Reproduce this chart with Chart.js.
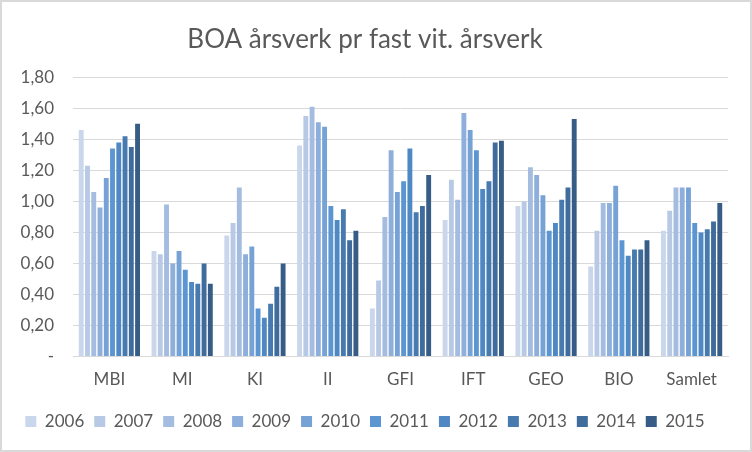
<!DOCTYPE html>
<html>
<head>
<meta charset="utf-8">
<script src="https://cdn.jsdelivr.net/npm/chart.js@4"></script>
<style>
  html, body { margin: 0; padding: 0; background: #fff; }
  #wrap {
    position: absolute; left: 0; top: 0;
    width: 752px; height: 452px;
    box-sizing: border-box;
    border: 2px solid #d9d9d9;
  }
</style>
</head>
<body>
<div id="wrap"><canvas id="boaChart"></canvas></div>
<script>
// categories and series (one array per year)
const units = ['MBI', 'MI', 'KI', 'II', 'GFI', 'IFT', 'GEO', 'BIO', 'Samlet'];
const years = ['2006', '2007', '2008', '2009', '2010', '2011', '2012', '2013', '2014', '2015'];

const v2006 = [1.46, 0.68, 0.78, 1.36, 0.31, 0.88, 0.97, 0.58, 0.81];
const v2007 = [1.23, 0.66, 0.86, 1.55, 0.49, 1.14, 1.00, 0.81, 0.94];
const v2008 = [1.06, 0.98, 1.09, 1.61, 0.90, 1.01, 1.22, 0.99, 1.09];
const v2009 = [0.96, 0.60, 0.66, 1.51, 1.33, 1.57, 1.17, 0.99, 1.09];
const v2010 = [1.15, 0.68, 0.71, 1.48, 1.06, 1.46, 1.04, 1.10, 1.09];
const v2011 = [1.34, 0.56, 0.31, 0.97, 1.13, 1.33, 0.81, 0.75, 0.86];
const v2012 = [1.38, 0.48, 0.25, 0.88, 1.34, 1.08, 0.86, 0.65, 0.80];
const v2013 = [1.42, 0.47, 0.34, 0.95, 0.93, 1.13, 1.01, 0.69, 0.82];
const v2014 = [1.35, 0.60, 0.45, 0.75, 0.97, 1.38, 1.09, 0.69, 0.87];
const v2015 = [1.50, 0.47, 0.60, 0.81, 1.17, 1.39, 1.53, 0.75, 0.99];

const yTicks = [0, 0.2, 0.4, 0.6, 0.8, 1.0, 1.2, 1.4, 1.6, 1.8];

const series = [v2006, v2007, v2008, v2009, v2010, v2011, v2012, v2013, v2014, v2015];
const colors = ['#c9d6eb', '#b7c9e5', '#a3bce0', '#8eafdb', '#77a2d6', '#5b96d2',
                '#4f88c3', '#477aaf', '#3f6c9c', '#375d87'];

const font = "'Lato', 'Liberation Sans', sans-serif";
Chart.defaults.font.family = font;
Chart.defaults.color = '#595959';

new Chart(document.getElementById('boaChart'), {
    type: 'bar',
    data: {
        labels: units,
        datasets: series.map((d, i) => ({
            label: years[i],
            data: d,
            backgroundColor: colors[i],
            borderWidth: 0,
            categoryPercentage: 0.86,
            barPercentage: 0.78
        }))
    },
    options: {
        responsive: true,
        maintainAspectRatio: false,
        animation: false,
        layout: {
            padding: { left: 0, right: 22, top: 18, bottom: 10 }
        },
        plugins: {
            title: {
                display: true,
                text: 'BOA årsverk pr fast vit. årsverk',
                font: { size: 26, weight: 'normal' },
                color: '#595959',
                padding: { top: 4, bottom: 22 }
            },
            legend: {
                position: 'bottom',
                labels: {
                    boxWidth: 11,
                    boxHeight: 11,
                    padding: 10,
                    font: { size: 17 },
                    color: '#595959'
                }
            },
            tooltip: { enabled: false }
        },
        scales: {
            y: {
                min: 0,
                max: 1.8,
                afterBuildTicks: s => { s.ticks = yTicks.map(v => ({ value: v })); },
                afterFit: s => { s.width = 71; },
                grid: { color: '#d9d9d9', drawTicks: false },
                border: { display: false },
                ticks: {
                    padding: 19,
                    font: { size: 17 },
                    callback: v => v === 0 ? '-' : v.toFixed(2).replace('.', ',')
                }
            },
            x: {
                grid: { display: false, drawTicks: false },
                border: { color: '#d9d9d9', width: 1 },
                ticks: { padding: 13, font: { size: 17 } }
            }
        }
    }
});
</script>
</body>
</html>
